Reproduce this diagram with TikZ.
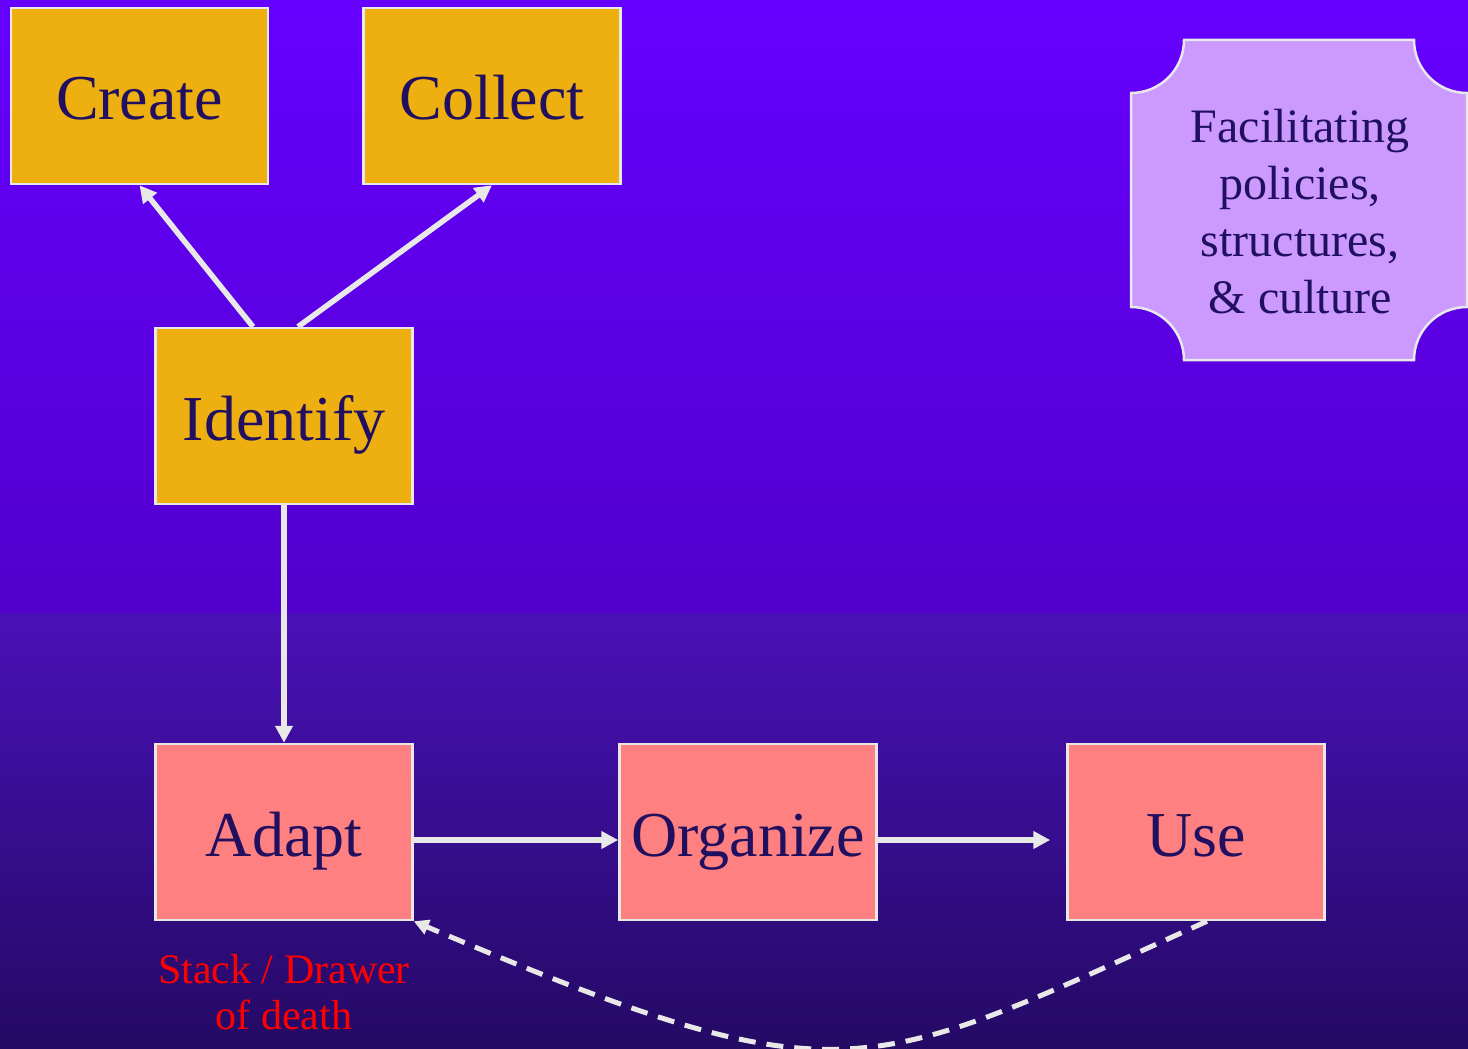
\documentclass[tikz,border=0pt]{standalone}
\usepackage{fontspec}
\setmainfont{Liberation Serif}
\usetikzlibrary{arrows.meta}
\definecolor{bgtopA}{RGB}{102,0,255}
\definecolor{bgbotA}{RGB}{82,0,204}
\definecolor{bgtopB}{RGB}{74,16,184}
\definecolor{bgbotB}{RGB}{36,10,100}
\definecolor{gold}{RGB}{238,176,16}
\definecolor{pinkbox}{RGB}{255,128,128}
\definecolor{lilac}{RGB}{204,153,255}
\definecolor{ink}{RGB}{33,15,95}
\definecolor{edge}{RGB}{232,232,232}
\tikzset{
  box/.style={draw=edge, line width=2.5pt, minimum width=257pt, minimum height=176pt,
    inner sep=0pt, text=ink, font=\fontsize{64}{70}\selectfont, text height=48pt, text depth=0pt},
  goldbox/.style={box, fill=gold},
  pinkbx/.style={box, fill=pinkbox},
  conn/.style={draw=edge, line width=5.5pt, -{Triangle[length=17pt,width=17pt]}},
  dconn/.style={draw=edge, line width=5pt, dash pattern=on 17pt off 11pt, -{Triangle[length=15pt,width=15pt]}}
}
\begin{document}
\begin{tikzpicture}[x=1pt,y=-1pt]
\useasboundingbox (0,0) rectangle (1468,1049);
\clip (0,0) rectangle (1468,1049);
\shade[top color=bgtopA, bottom color=bgbotA] (0,0) rectangle (1468,613);
\shade[top color=bgtopB, bottom color=bgbotB] (0,613) rectangle (1468,1049);

\node[goldbox] (create) at (139.5,96) {Create};
\node[goldbox] (collect) at (492,96) {Collect};
\node[goldbox] (identify) at (284,416) {Identify};
\node[pinkbx] (adapt) at (284,832) {Adapt};
\node[pinkbx] (organize) at (748,832) {Organize};
\node[pinkbx] (use) at (1196,832) {Use};

% facilitating box
\filldraw[fill=lilac, draw=edge, line width=2.5pt]
  (1184,40) -- (1414,40) .. controls (1414,69.3) and (1437.7,93) .. (1467,93)
  -- (1467,307) .. controls (1437.7,307) and (1414,330.7) .. (1414,360)
  -- (1184,360) .. controls (1184,330.7) and (1160.3,307) .. (1131,307)
  -- (1131,93) .. controls (1160.3,93) and (1184,69.3) .. (1184,40) -- cycle;
\node[text=ink, align=center, font=\fontsize{48}{57}\selectfont, inner sep=0pt] (facil) at (1300,211.5)
  {Facilitating\\policies,\\structures,\\\& culture};

\node[text=red, align=center, font=\fontsize{42}{46}\selectfont, inner sep=0pt] (note) at (284,992)
  {Stack / Drawer\\of death};

\draw[conn] ([xshift=-31pt]identify.north) -- (create.south);
\draw[conn] ([xshift=14pt]identify.north) -- (collect.south);
\draw[conn] (identify.south) -- (adapt.north);
\draw[conn] ([yshift=-8pt]adapt.east) -- ([yshift=-8pt]organize.west);
\draw[conn, shorten >=16pt] ([yshift=-8pt]organize.east) -- ([yshift=-8pt]use.west);
\draw[dconn] ([xshift=11pt]use.south) .. controls +(-346,156) and +(432,183) .. (adapt.south east);
\end{tikzpicture}
\end{document}
